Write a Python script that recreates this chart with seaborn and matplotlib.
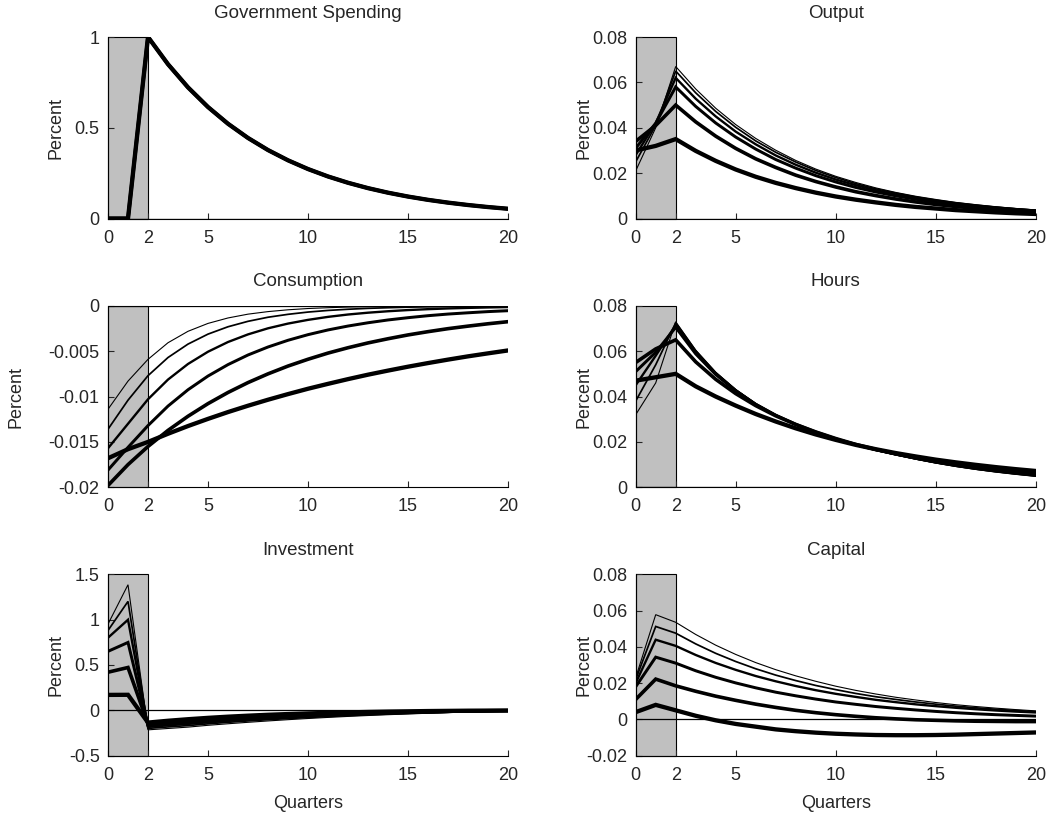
import matplotlib
matplotlib.use("Agg")
import matplotlib.pyplot as plt
import seaborn as sns

# Impulse responses to a government spending shock, six model variants each
quarters = list(range(21))

gov_spending = [0.0, 0.0, 1.0, 0.85, 0.7225, 0.6141, 0.522, 0.4437, 0.3771, 0.3206,
                0.2725, 0.2316, 0.1969, 0.1673, 0.1422, 0.1209, 0.1028, 0.0874,
                0.0743, 0.0631, 0.0536]

output_paths = [
    [0.021, 0.040, 0.067, 0.0571, 0.0486, 0.0414, 0.0353, 0.0301, 0.0256, 0.0218, 0.0186,
     0.0159, 0.0135, 0.0115, 0.0098, 0.0084, 0.0071, 0.0061, 0.0052, 0.0044, 0.0038],
    [0.025, 0.041, 0.065, 0.0554, 0.0472, 0.0402, 0.0342, 0.0292, 0.0249, 0.0212, 0.0181,
     0.0154, 0.0131, 0.0112, 0.0095, 0.0081, 0.0069, 0.0059, 0.0050, 0.0043, 0.0036],
    [0.028, 0.042, 0.062, 0.0528, 0.0450, 0.0383, 0.0327, 0.0278, 0.0237, 0.0202, 0.0172,
     0.0147, 0.0125, 0.0106, 0.0091, 0.0077, 0.0066, 0.0056, 0.0048, 0.0041, 0.0035],
    [0.031, 0.042, 0.058, 0.0494, 0.0421, 0.0359, 0.0306, 0.0260, 0.0222, 0.0189, 0.0161,
     0.0137, 0.0117, 0.0100, 0.0085, 0.0072, 0.0062, 0.0052, 0.0045, 0.0038, 0.0032],
    [0.034, 0.041, 0.050, 0.0426, 0.0363, 0.0309, 0.0263, 0.0225, 0.0191, 0.0163, 0.0139,
     0.0118, 0.0101, 0.0086, 0.0073, 0.0062, 0.0053, 0.0045, 0.0039, 0.0033, 0.0028],
    [0.030, 0.032, 0.035, 0.0298, 0.0254, 0.0216, 0.0184, 0.0157, 0.0134, 0.0114, 0.0097,
     0.0083, 0.0071, 0.0060, 0.0051, 0.0044, 0.0037, 0.0032, 0.0027, 0.0023, 0.0020],
]

consumption_paths = [
    [-0.0114, -0.0083, -0.0059, -0.00407, -0.00281, -0.00194, -0.00134, -0.00092, -0.00064,
     -0.00044, -0.00030, -0.00021, -0.00014, -0.00010, -0.00007, -0.00005, -0.00003,
     -0.00002, -0.00002, -0.00001, -0.00001],
    [-0.0136, -0.0104, -0.0077, -0.0057, -0.00422, -0.00312, -0.00231, -0.00171, -0.00126,
     -0.00094, -0.00069, -0.00051, -0.00038, -0.00028, -0.00021, -0.00015, -0.00011,
     -0.00008, -0.00006, -0.00005, -0.00003],
    [-0.0157, -0.0130, -0.0103, -0.00813, -0.00641, -0.00506, -0.00399, -0.00315, -0.00248,
     -0.00196, -0.00155, -0.00122, -0.00096, -0.00076, -0.00060, -0.00047, -0.00037,
     -0.00029, -0.00023, -0.00018, -0.00014],
    [-0.0181, -0.0156, -0.0132, -0.01105, -0.00925, -0.00774, -0.00648, -0.00542, -0.00454,
     -0.00380, -0.00318, -0.00266, -0.00223, -0.00187, -0.00156, -0.00131, -0.00109,
     -0.00091, -0.00077, -0.00064, -0.00054],
    [-0.0198, -0.0175, -0.0155, -0.01373, -0.01217, -0.01078, -0.00955, -0.00846, -0.00750,
     -0.00664, -0.00589, -0.00521, -0.00462, -0.00409, -0.00363, -0.00321, -0.00285,
     -0.00252, -0.00224, -0.00198, -0.00175],
    [-0.0168, -0.0158, -0.0150, -0.0141, -0.01325, -0.01246, -0.01171, -0.01101, -0.01035,
     -0.00973, -0.00914, -0.00860, -0.00808, -0.00759, -0.00714, -0.00671, -0.00631,
     -0.00593, -0.00557, -0.00524, -0.00492],
]

hours_paths = [
    [0.032, 0.046, 0.073, 0.0605, 0.0507, 0.0430, 0.0368, 0.0318, 0.0277, 0.0243, 0.0213,
     0.0187, 0.0164, 0.0143, 0.0124, 0.0107, 0.0092, 0.0079, 0.0067, 0.0057, 0.0048],
    [0.038, 0.054, 0.0725, 0.0602, 0.0506, 0.0430, 0.0368, 0.0318, 0.0277, 0.0243, 0.0213,
     0.0187, 0.0164, 0.0144, 0.0125, 0.0108, 0.0093, 0.0080, 0.0069, 0.0059, 0.0050],
    [0.045, 0.058, 0.0715, 0.0595, 0.0502, 0.0428, 0.0367, 0.0318, 0.0277, 0.0243, 0.0214,
     0.0188, 0.0165, 0.0145, 0.0127, 0.0110, 0.0095, 0.0082, 0.0071, 0.0061, 0.0052],
    [0.051, 0.0595, 0.0705, 0.0588, 0.0497, 0.0425, 0.0366, 0.0318, 0.0278, 0.0244, 0.0214,
     0.0188, 0.0166, 0.0146, 0.0128, 0.0112, 0.0098, 0.0085, 0.0074, 0.0064, 0.0055],
    [0.055, 0.061, 0.065, 0.0553, 0.0476, 0.0413, 0.0360, 0.0315, 0.0277, 0.0244, 0.0215,
     0.0189, 0.0167, 0.0148, 0.0131, 0.0115, 0.0101, 0.0089, 0.0078, 0.0068, 0.0060],
    [0.047, 0.0485, 0.050, 0.0445, 0.0400, 0.0360, 0.0323, 0.0290, 0.0260, 0.0233, 0.0209,
     0.0187, 0.0168, 0.0151, 0.0136, 0.0122, 0.0110, 0.0099, 0.0089, 0.0080, 0.0072],
]

investment_paths = [
    [0.95, 1.384, -0.215, -0.200, -0.185, -0.165, -0.148, -0.132, -0.117, -0.103, -0.090,
     -0.078, -0.067, -0.057, -0.048, -0.040, -0.032, -0.025, -0.019, -0.013, -0.008],
    [0.88, 1.20, -0.199, -0.183, -0.168, -0.149, -0.132, -0.117, -0.103, -0.091, -0.079,
     -0.068, -0.058, -0.049, -0.041, -0.034, -0.027, -0.021, -0.016, -0.011, -0.007],
    [0.80, 0.998, -0.183, -0.166, -0.150, -0.133, -0.117, -0.103, -0.090, -0.078, -0.068,
     -0.058, -0.049, -0.041, -0.034, -0.028, -0.022, -0.017, -0.013, -0.009, -0.006],
    [0.65, 0.748, -0.167, -0.149, -0.133, -0.116, -0.101, -0.088, -0.076, -0.066, -0.056,
     -0.048, -0.041, -0.034, -0.028, -0.023, -0.018, -0.014, -0.010, -0.007, -0.004],
    [0.42, 0.472, -0.151, -0.132, -0.115, -0.100, -0.086, -0.074, -0.063, -0.053, -0.045,
     -0.038, -0.032, -0.026, -0.021, -0.017, -0.013, -0.010, -0.007, -0.005, -0.003],
    [0.17, 0.171, -0.135, -0.115, -0.098, -0.083, -0.070, -0.059, -0.049, -0.041, -0.034,
     -0.028, -0.023, -0.018, -0.014, -0.011, -0.008, -0.006, -0.004, -0.003, -0.002],
]

capital_paths = [
    [0.023, 0.0577, 0.0535, 0.0468, 0.0409, 0.0358, 0.0313, 0.0274, 0.0240, 0.0210, 0.0183,
     0.0160, 0.0140, 0.0122, 0.0107, 0.0093, 0.0081, 0.0071, 0.0062, 0.0054, 0.0047],
    [0.022, 0.0512, 0.0475, 0.0416, 0.0364, 0.0319, 0.0279, 0.0244, 0.0214, 0.0187, 0.0164,
     0.0143, 0.0125, 0.0110, 0.0096, 0.0084, 0.0073, 0.0064, 0.0056, 0.0049, 0.0043],
    [0.020, 0.0439, 0.0405, 0.0355, 0.0311, 0.0273, 0.0239, 0.0210, 0.0184, 0.0161, 0.0141,
     0.0124, 0.0108, 0.0095, 0.0083, 0.0073, 0.0064, 0.0056, 0.0049, 0.0043, 0.0038],
    [0.018, 0.0343, 0.0310, 0.0268, 0.0232, 0.0201, 0.0174, 0.0150, 0.0130, 0.0112, 0.0096,
     0.0083, 0.0071, 0.0061, 0.0052, 0.0044, 0.0037, 0.0031, 0.0026, 0.0022, 0.0018],
    [0.011, 0.0222, 0.0185, 0.0155, 0.0128, 0.0105, 0.0084, 0.0066, 0.0050, 0.0037, 0.0026,
     0.0017, 0.0009, 0.0003, -0.0002, -0.0005, -0.0008, -0.0010, -0.0011, -0.0012, -0.0012],
    [0.004, 0.0080, 0.0050, 0.0020, -0.0005, -0.0025, -0.0040, -0.0055, -0.0065, -0.0073,
     -0.0079, -0.0083, -0.0086, -0.0087, -0.0087, -0.0086, -0.0084, -0.0081, -0.0078,
     -0.0075, -0.0072],
]

x_ticks = [0, 2, 5, 10, 15, 20]
x_tick_labels = ["0", "2", "5", "10", "15", "20"]

gs_ticks = [0, 0.5, 1]
gs_labels = ["0", "0.5", "1"]
pos_ticks = [0, 0.02, 0.04, 0.06, 0.08]
pos_labels = ["0", "0.02", "0.04", "0.06", "0.08"]
cons_ticks = [-0.02, -0.015, -0.01, -0.005, 0]
cons_labels = ["-0.02", "-0.015", "-0.01", "-0.005", "0"]
inv_ticks = [-0.5, 0, 0.5, 1, 1.5]
inv_labels = ["-0.5", "0", "0.5", "1", "1.5"]
cap_ticks = [-0.02, 0, 0.02, 0.04, 0.06, 0.08]
cap_labels = ["-0.02", "0", "0.02", "0.04", "0.06", "0.08"]

sns.set_style("ticks")
plt.rcParams["font.family"] = ["Liberation Sans", "DejaVu Sans"]
plt.rcParams["font.size"] = 13

line_widths = [0.8, 1.25, 1.7, 2.15, 2.6, 3.1]

fig = plt.figure(figsize=(10.54, 8.14), dpi=100)
W, H = 1054.0, 814.0
ax_w, ax_h = 400 / W, 181.5 / H
col_x = [108 / W, 635.7 / W]
row_y = [(H - 218.5) / H, (H - 487.3) / H, (H - 755.7) / H]

# (title, paths, y-limits, y ticks, y tick labels, row, column, y-label x offset)
panels = [
    ("Government Spending", [gov_spending] * 6, (0, 1), gs_ticks, gs_labels, 0, 0, -0.1075),
    ("Output", output_paths, (0, 0.08), pos_ticks, pos_labels, 0, 1, -0.1075),
    ("Consumption", consumption_paths, (-0.02, 0), cons_ticks, cons_labels, 1, 0, -0.2075),
    ("Hours", hours_paths, (0, 0.08), pos_ticks, pos_labels, 1, 1, -0.1075),
    ("Investment", investment_paths, (-0.5, 1.5), inv_ticks, inv_labels, 2, 0, -0.1075),
    ("Capital", capital_paths, (-0.02, 0.08), cap_ticks, cap_labels, 2, 1, -0.1075),
]

for title, paths, ylim, yt, ytl, r, c, ylab_x in panels:
    ax = fig.add_axes([col_x[c], row_y[r], ax_w, ax_h])
    ax.axvspan(0, 2, facecolor="#c0c0c0", edgecolor="black", linewidth=0.8,
               zorder=0, clip_on=False)
    ax.axhline(0, color="black", linewidth=0.9, zorder=1)
    for path, lw in zip(paths, line_widths):
        sns.lineplot(x=quarters, y=path, ax=ax, color="black", linewidth=lw,
                     solid_joinstyle="miter", legend=False, zorder=2)
    ax.set_xlim(0, 20)
    ax.set_ylim(*ylim)
    ax.set_xticks(x_ticks)
    ax.set_xticklabels(x_tick_labels)
    ax.set_yticks(yt)
    ax.set_yticklabels(ytl)
    ax.tick_params(direction="in", length=4, width=0.8, labelsize=13)
    ax.tick_params(axis="x", pad=8)
    ax.tick_params(axis="y", pad=6)
    sns.despine(ax=ax)
    for side in ("left", "bottom"):
        ax.spines[side].set_linewidth(0.8)
        ax.spines[side].set_color("black")
    ax.set_title(title, fontsize=13.5, pad=14)
    ax.set_ylabel("Percent", fontsize=13)
    ax.yaxis.set_label_coords(ylab_x, 0.5)
    if r == 2:
        ax.set_xlabel("Quarters", fontsize=13, labelpad=8)
    else:
        ax.set_xlabel("")

fig.savefig("out.png", dpi=100)
